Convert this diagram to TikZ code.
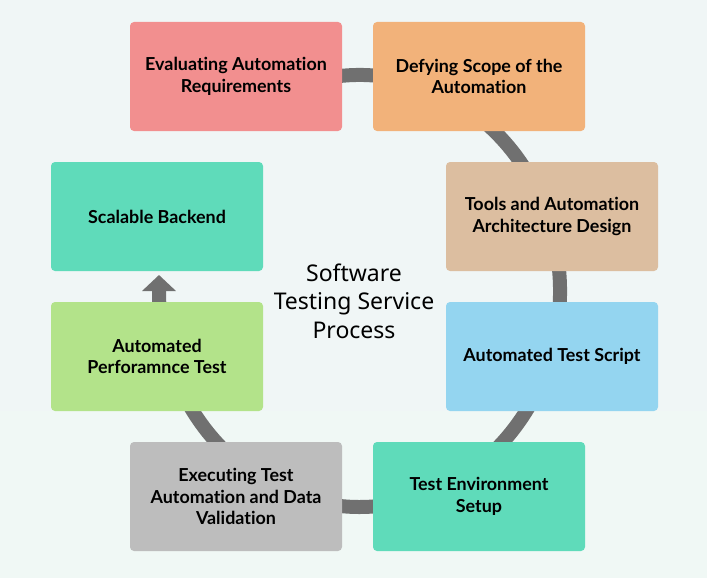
\documentclass[tikz,border=0pt]{standalone}
\usepackage{fontspec}
\setmainfont[Ligatures=NoCommon]{Lato}
\newfontfamily\titlefont{Noto Sans}
\usetikzlibrary{arrows.meta,calc}
\definecolor{bgtop}{HTML}{F0F6F6}
\definecolor{bgbot}{HTML}{F0F8F5}
\definecolor{ring}{HTML}{707070}
\definecolor{cred}{HTML}{F28F8F}
\definecolor{corange}{HTML}{F2B27A}
\definecolor{ctan}{HTML}{DCBEA0}
\definecolor{cblue}{HTML}{94D5F0}
\definecolor{cteal}{HTML}{5FDBBA}
\definecolor{cgray}{HTML}{BDBDBD}
\definecolor{cgreen}{HTML}{B3E38A}
\begin{document}
\begin{tikzpicture}[x=1pt,y=-1pt,
  stepbox/.style={rounded corners=4pt,minimum width=212pt,minimum height=109pt,
    align=center,inner sep=0pt,font=\fontsize{17.9}{21.6}\selectfont\bfseries}]
\fill[bgtop] (0,0) rectangle (707,411);
\fill[bgbot] (0,411) rectangle (707,578);
\useasboundingbox (0,0) rectangle (707,578);
\coordinate (hub) at (359.5,291);
\coordinate (tip) at (159,275);
\draw[ring,line width=14pt,-{Triangle[width=33pt,length=16pt]}]
  ($(hub)+(105:200.5pt and 216pt)$) arc[start angle=105,end angle=-180,x radius=200.5pt,y radius=216pt] -- (tip);
\node[stepbox,fill=cred] (eval) at (236,76.5) {Evaluating Automation\\Requirements};
\node[stepbox,fill=corange] (scope) at (479,76.5) {Defying Scope of the\\Automation};
\node[stepbox,fill=ctan] (tools) at (552,216.5) {Tools and Automation\\Architecture Design};
\node[stepbox,fill=cblue] (script) at (552,356.5) {Automated Test Script};
\node[stepbox,fill=cteal] (env) at (479,496.5) {Test Environment\\Setup};
\node[stepbox,fill=cgray] (exec) at (236,496.5) {Executing Test\\Automation and Data\\Validation};
\node[stepbox,fill=cgreen] (perf) at (157,356.5) {Automated\\Perforamnce Test};
\node[stepbox,fill=cteal] (backend) at (157,216.5) {Scalable Backend};
\node[align=center,font=\titlefont\fontsize{23}{28.5}\selectfont] (title) at (354,301) {Software\\Testing Service\\Process};
\end{tikzpicture}
\end{document}
